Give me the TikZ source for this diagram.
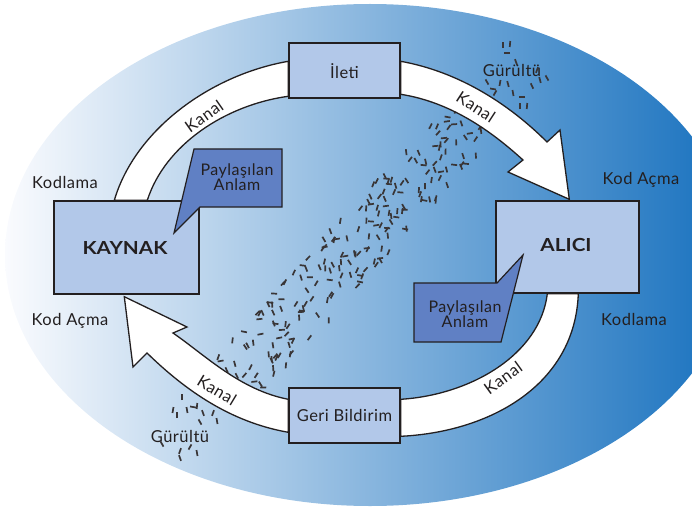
\documentclass[tikz,border=0pt]{standalone}
\usepackage{fontspec}
\setmainfont{Lato}
\newfontfamily\lblfont[LetterSpace=3]{Lato}
\usetikzlibrary{calc}
\definecolor{boxfill}{RGB}{178,200,233}
\definecolor{bubblefill}{RGB}{96,128,196}
\definecolor{txt}{RGB}{35,31,32}
\definecolor{bgleft}{RGB}{250,251,254}
\definecolor{bgmid}{RGB}{148,174,221}
\definecolor{bgright}{RGB}{22,112,190}
\begin{document}
\begin{tikzpicture}[x=1pt,y=-1pt,
  box/.style={draw=txt, line width=1.4pt, fill=boxfill, text=txt, inner sep=0pt},
  band/.style={draw=txt, line width=1.3pt, fill=white, line join=miter},
  bubble/.style={draw=txt, line width=1.2pt, fill=bubblefill, line join=miter},
  lbl/.style={font=\lblfont\fontsize{16.5}{18}\selectfont, text=txt, inner sep=0pt},
  bublbl/.style={font=\lblfont\fontsize{16}{15.5}\selectfont, text=txt, inner sep=0pt, align=center},
  bigname/.style={font=\fontsize{18}{19}\bfseries, text=txt},
  noisedash/.style={draw=txt!90, line width=1.7pt, line cap=butt}
]
\useasboundingbox (0,0) rectangle (692,513);
\begin{scope}
  \clip (0,0) rectangle (692,513);
  \shade[left color=bgleft, middle color=bgmid, right color=bgright]
    (370,255) ellipse [x radius=365pt, y radius=251pt];
\end{scope}

% noise band
\pgfmathsetseed{5}
\foreach \i in {1,...,215}{
  \pgfmathsetmacro\nt{rnd}
  \pgfmathsetmacro\ns{rand}
  \pgfmathsetmacro\nr{rnd}
  \pgfmathsetmacro\na{\nr<0.2 ? 12*rand : 95+40*rand}
  \pgfmathsetmacro\nx{230+242*\nt+0.74*30*\ns}
  \pgfmathsetmacro\ny{387-270*\nt+0.67*30*\ns}
  \draw[noisedash] (\nx,\ny) ++(\na:3) -- ++(\na+180:6);
}
% noise clusters
\foreach \x/\y/\a in {503/45/90,510/44/95,507/53/0,516/62/70,487/82/60,493/89/10,500/83/100,508/84/75,513/93/80,522/97/0,520/106/90,527/106/95,532/86/65,540/80/75,547/78/60,537/70/110,495/93/120}
  \draw[noisedash] (\x,\y) ++(\a:3) -- ++(\a+180:6);
\foreach \x/\y/\a in {182/397/90,173/410/100,187/410/80,193/407/10,203/413/70,213/413/110,200/422/60,217/421/80,177/415/90,162/444/60,180/451/110,190/447/120,197/453/80,180/458/70,197/406/95}
  \draw[noisedash] (\x,\y) ++(\a:3) -- ++(\a+180:6);

% nodes
\node[box, minimum width=145pt, minimum height=93pt] (kaynak) at (126.5,247.5) {};
\node[box, minimum width=143pt, minimum height=92pt] (alici) at (567.5,247) {};
\node[box, minimum width=111pt, minimum height=55pt] (ileti) at (344.5,70.5) {};
\node[box, minimum width=111pt, minimum height=55pt] (geri) at (344.5,415.5) {};

% connector end points on the boxes
\coordinate (a1o) at ([xshift=61pt]kaynak.north west);
\coordinate (a1i) at ([xshift=94pt]kaynak.north west);
\coordinate (b1o) at ([yshift=-19pt]ileti.north west);
\coordinate (b1i) at ([yshift=-54pt]ileti.north west);
\coordinate (b2o) at ([yshift=-19pt]ileti.north east);
\coordinate (b2i) at ([yshift=-52pt]ileti.north east);
\coordinate (c1t) at ([xshift=74pt,yshift=1pt]alici.north west);
\coordinate (c2o) at ([xshift=83pt]alici.south west);
\coordinate (c2i) at ([xshift=52pt]alici.south west);
\coordinate (d1o) at ([yshift=-49pt]geri.north east);
\coordinate (d1i) at ([yshift=-12pt]geri.north east);
\coordinate (d2o) at ([yshift=-45pt]geri.north west);
\coordinate (d2i) at ([yshift=-12pt]geri.north west);
\coordinate (a2t) at ([xshift=71pt,yshift=-2pt]kaynak.south west);

% white channel bands / arrows
\draw[band] (a1o) .. controls (135,130) and (210,75) .. (b1o) -- (b1i)
  .. controls (225,105) and (165,145) .. (a1i) -- cycle;
\draw[band] (b2o) .. controls (460,72) and (510,105) .. (547,142) -- (560,130) -- (c1t)
  -- (508,172) -- (523,160) .. controls (490,130) and (450,102) .. (b2i) -- cycle;
\draw[band] (c2o) .. controls (575,385) and (490,432) .. (d1o) -- (d1i)
  .. controls (470,395) and (540,355) .. (c2i) -- cycle;
\draw[band] (d2o) .. controls (230,422) and (185,390) .. (147,353) -- (133,367) -- (a2t)
  -- (187,327) -- (173,333) .. controls (205,355) and (240,390) .. (d2i) -- cycle;

% boxes again, on top of the bands
\node[box, minimum width=145pt, minimum height=93pt] at (kaynak) {};
\node[box, minimum width=143pt, minimum height=92pt] at (alici) {};
\node[box, minimum width=111pt, minimum height=55pt] at (ileti) {};
\node[box, minimum width=111pt, minimum height=55pt] at (geri) {};

\node[bigname] (kaynakt) at (125,248) {\scalebox{1.15}[1]{KAYNAK}};
\node[bigname] (alicit) at (566,245) {\scalebox{1.15}[1]{ALICI}};
\node[lbl] (iletit) at (344.5,71) {İleti};
\node[lbl] (gerit) at (344.5,415) {Geri Bildirim};

% speech bubbles
\draw[bubble] (194,149) -- (282,149) -- (282,207) -- (200,207) -- (174,233) -- cycle;
\node[bublbl] (pa1) at (237,177) {Paylaşılan\\Anlam};
\draw[bubble] (414,283) -- (497,283) -- (523,255) -- (501,342) -- (414,342) -- cycle;
\node[bublbl] (pa2) at (465,314) {Paylaşılan\\Anlam};

% labels
\node[lbl] (kod1) at (65,182) {Kodlama};
\node[lbl] (ac1) at (641,180) {Kod Açma};
\node[lbl] (ac2) at (70,321) {Kod Açma};
\node[lbl] (kod2) at (634,319) {Kodlama};
\node[lbl] (g1) at (512,70) {Gürültü};
\node[lbl] (g2) at (180,436) {Gürültü};
\node[lbl, rotate=35] (k1) at (204,116) {Kanal};
\node[lbl, rotate=-33] (k2) at (476,107) {Kanal};
\node[lbl, rotate=-31] (k3) at (217,390) {Kanal};
\node[lbl, rotate=36] (k4) at (503,378) {Kanal};
\end{tikzpicture}
\end{document}
